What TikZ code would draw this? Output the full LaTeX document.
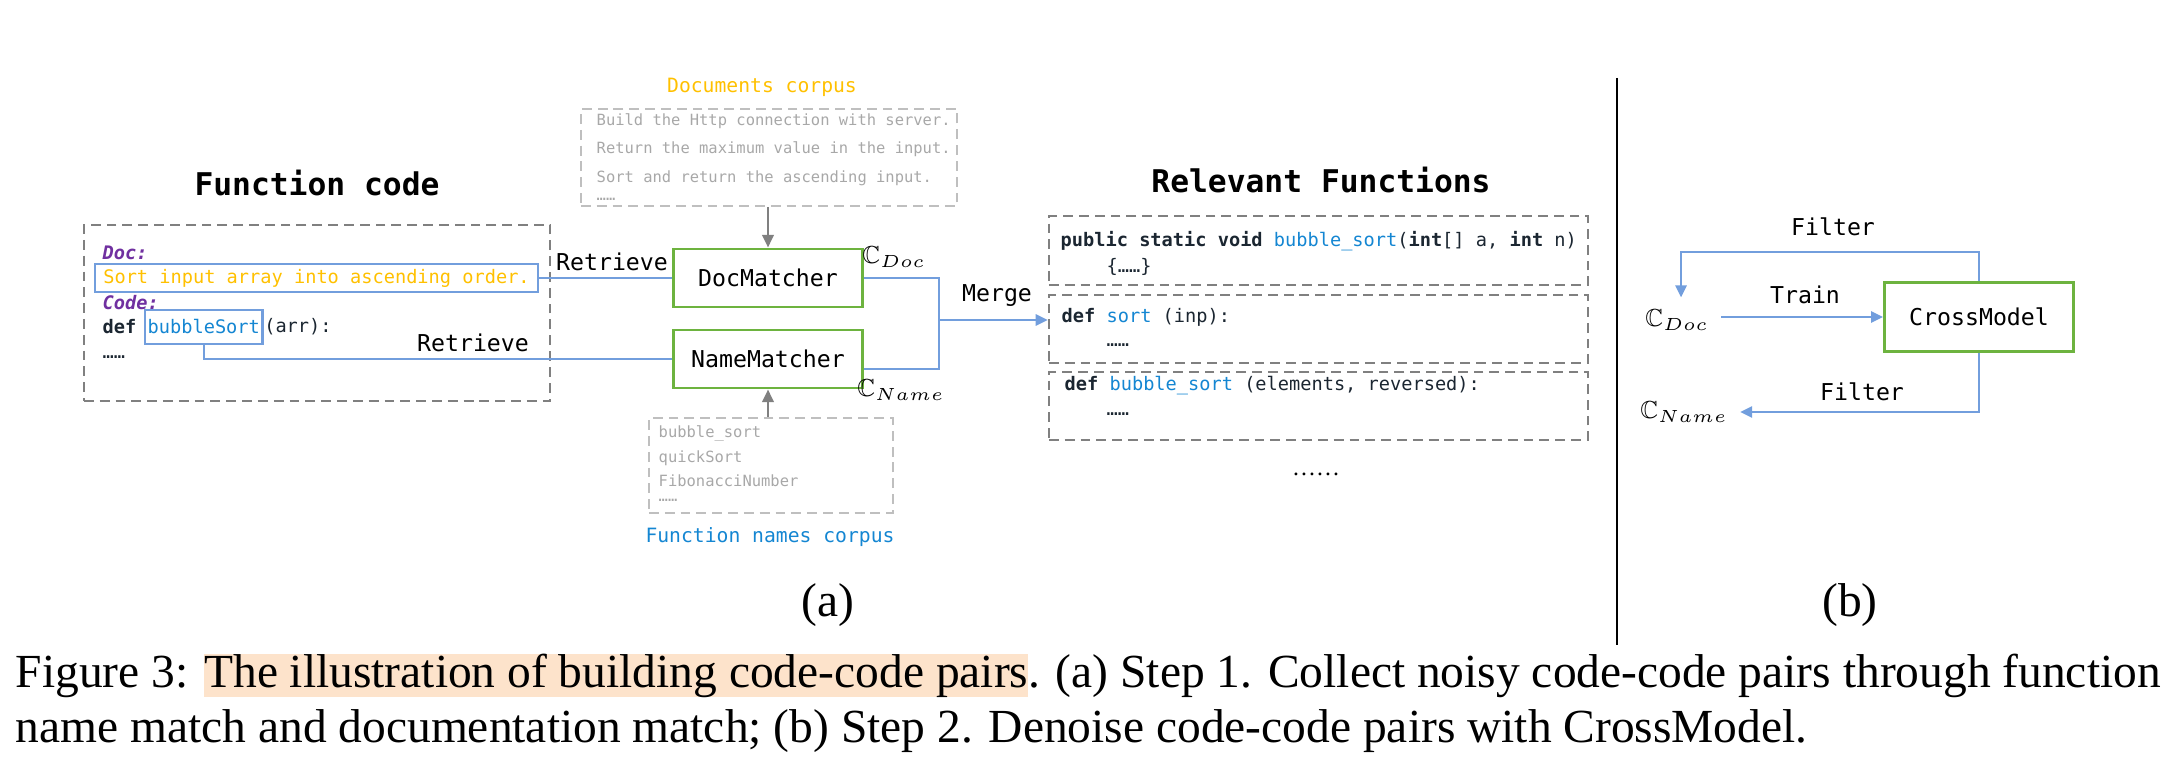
\documentclass[tikz,border=0pt]{standalone}
\usepackage{fontspec}
\setmainfont{Liberation Serif}
\setmonofont{DejaVu Sans Mono}
\usepackage{amsmath}
\usepackage{amssymb}
\usetikzlibrary{arrows.meta,positioning,calc}
\definecolor{Ink}{HTML}{1B2631}
\definecolor{DocGold}{HTML}{FFC000}
\definecolor{TagPurple}{HTML}{7030A0}
\definecolor{FnBlue}{HTML}{1486D2}
\definecolor{LinkBlue}{HTML}{729EDD}
\definecolor{BoxGreen}{HTML}{6DB33F}
\definecolor{DashGray}{HTML}{808080}
\definecolor{CorpGray}{HTML}{BFBFBF}
\definecolor{CorpText}{HTML}{A8A8A8}
\definecolor{Peach}{HTML}{FDE3CB}
\newcommand{\Fn}[1]{\textcolor{FnBlue}{#1}}
\newcommand{\HiLite}[1]{{\setlength{\fboxsep}{0pt}\colorbox{Peach}{\rule[-0.22em]{0pt}{0.9em}#1}}}
\tikzset{
  headline/.style={font=\ttfamily\bfseries\fontsize{8.9}{10}\selectfont},
  plainlbl/.style={font=\ttfamily\fontsize{6.6}{8}\selectfont},
  mathlbl/.style={font=\fontsize{7}{8}\selectfont},
  code/.style={font=\ttfamily\fontsize{5.3}{6}\selectfont,text=Ink,anchor=west,inner sep=0pt},
  corpus/.style={font=\ttfamily\fontsize{4.4}{5}\selectfont,text=CorpText,anchor=west,inner sep=0pt},
  corptitle/.style={font=\ttfamily\fontsize{5.6}{7}\selectfont},
  matcher/.style={plainlbl,draw=BoxGreen,line width=0.8pt,minimum width=1.89cm,minimum height=0.58cm},
  dashbox/.style={draw=DashGray,line width=0.7pt,dash pattern=on 2.8pt off 1.7pt},
  corpbox/.style={dashbox,draw=CorpGray},
  link/.style={draw=LinkBlue,line width=0.6pt},
  linkarrow/.style={link,-{Triangle[length=3.4pt,width=3.2pt]}},
  feed/.style={draw=DashGray,line width=0.8pt,-{Triangle[length=3.6pt,width=3.2pt]}},
  capline/.style={font=\rmfamily\fontsize{13.5}{16}\selectfont,inner sep=0pt}
}
\begin{document}
\begin{tikzpicture}[x=0.01cm,y=-0.01cm]
\useasboundingbox (0,0) rectangle (2180,764);
\node[headline] (fctitle) at (317,183) {Function code};
\node[dashbox,minimum width=4.66cm,minimum height=1.76cm] (fcbox) at (317,313) {};
\node[code,text=TagPurple] (doctag) at (102,253) {\textbf{\textit{Doc:}}};
\node[code,text=DocGold,draw=LinkBlue,line width=0.7pt,inner xsep=2.3pt,minimum height=0.28cm] (docline) at (94,278) {Sort input array into ascending order.};
\node[code,text=TagPurple] (codetag) at (102,303) {\textbf{\textit{Code:}}};
\node[code] (defkw) at (102,327) {\textbf{def}};
\node[code,text=FnBlue,draw=LinkBlue,line width=0.7pt,inner xsep=0.7pt,minimum height=0.34cm] (bubble) at (144,327) {bubbleSort};
\node[code] (arrtxt) at (bubble.east) {(arr):};
\node[code] (fcdots) at (102,357) {……};

\node[corptitle,text=DocGold] (doctitle) at (762,87) {Documents corpus};
\node[corpbox,minimum width=3.76cm,minimum height=0.97cm] (doccorp) at (769,157.5) {};
\foreach \y/\t [count=\i] in {121/Build the Http connection with server.,149/Return the maximum value in the input.,178/Sort and return the ascending input.,199/……}
  \node[corpus] (dc\i) at (596,\y) {\t};
\node[matcher] (docm) at (768,278) {DocMatcher};
\node[matcher] (namem) at (768,359) {NameMatcher};
\node[corpbox,minimum width=2.44cm,minimum height=0.95cm] (namecorp) at (771,465.5) {};
\foreach \y/\t [count=\i] in {433/bubble\_sort,458/quickSort,481/FibonacciNumber,500/……}
  \node[corpus] (nc\i) at (658,\y) {\t};
\node[corptitle,text=FnBlue] (nametitle) at (770,537) {Function names corpus};
\draw[feed] (doccorp.south -| docm) -- (docm.north);
\draw[feed] (namecorp.north -| namem) -- (namem.south);

\node[plainlbl] (ret1) at (612,262) {Retrieve};
\node[plainlbl] (ret2) at (473,343) {Retrieve};
\draw[link] (docline.east) -- (docm.west);
\draw[link] (bubble.south) |- (namem.west);

\node[mathlbl] (cdoc1) at (894,257) {$\mathbb{C}_{Doc}$};
\node[mathlbl] (cname1) at (901,390) {$\mathbb{C}_{Name}$};
\coordinate (mj) at (939,320);
\draw[link] (docm.east) -| (mj) |- ($(namem.east)+(0,10)$);
\node[plainlbl] (merge) at (997,296) {Merge};

\node[headline] (rftitle) at (1321,180) {Relevant Functions};
\foreach \y/\h [count=\i] in {250.5/0.69,329/0.68,406/0.68}
  \node[dashbox,minimum width=5.39cm,minimum height=\h cm] (rf\i) at (1318.5,\y) {};
\node[code] (rf1a) at (1060,241) {\textbf{public static void} \Fn{bubble\_sort}(\textbf{int}[] a, \textbf{int} n)};
\node[code] (rf1b) at (1106,267) {\{……\}};
\node[code] (rf2a) at (1061,317) {\textbf{def} \Fn{sort} (inp):};
\node[code] (rf2b) at (1106,345) {……};
\node[code] (rf3a) at (1064,386) {\textbf{def} \Fn{bubble\_sort} (elements, reversed):};
\node[code] (rf3b) at (1106,414) {……};
\node[font=\rmfamily\fontsize{6.8}{8}\selectfont] (rfdots) at (1316,474) {……};
\draw[linkarrow] (mj) -- (mj -| rf2.west);

\draw[black,line width=0.6pt] (1617,78) -- (1617,645);

\node[mathlbl] (cdoc2) at (1677,320) {$\mathbb{C}_{Doc}$};
\node[mathlbl] (cname2) at (1684,412) {$\mathbb{C}_{Name}$};
\node[matcher,minimum height=0.69cm] (cross) at (1979,317) {CrossModel};
\node[plainlbl] (train) at (1805,295) {Train};
\node[plainlbl] (filt1) at (1833,227) {Filter};
\node[plainlbl] (filt2) at (1862,392) {Filter};
\coordinate (ftop) at (1681,252);
\draw[linkarrow] (cdoc2.east |- cross) -- (cross.west);
\draw[linkarrow] (cross.north) |- (ftop) -- (ftop |- cdoc2.north);
\draw[linkarrow] (cross.south) |- (cname2.east);

\node[capline] (suba) at (828,605) {(a)};
\node[capline] (subb) at (1850,605) {(b)};
\node[capline,anchor=base west] (cap1) at (15,687) {Figure 3: \HiLite{The illustration of building code-code pairs}. (a) Step 1. Collect noisy code-code pairs through function};
\node[capline,anchor=base west] (cap2) at (15,742) {name match and documentation match; (b) Step 2. Denoise code-code pairs with CrossModel.};
\end{tikzpicture}
\end{document}
